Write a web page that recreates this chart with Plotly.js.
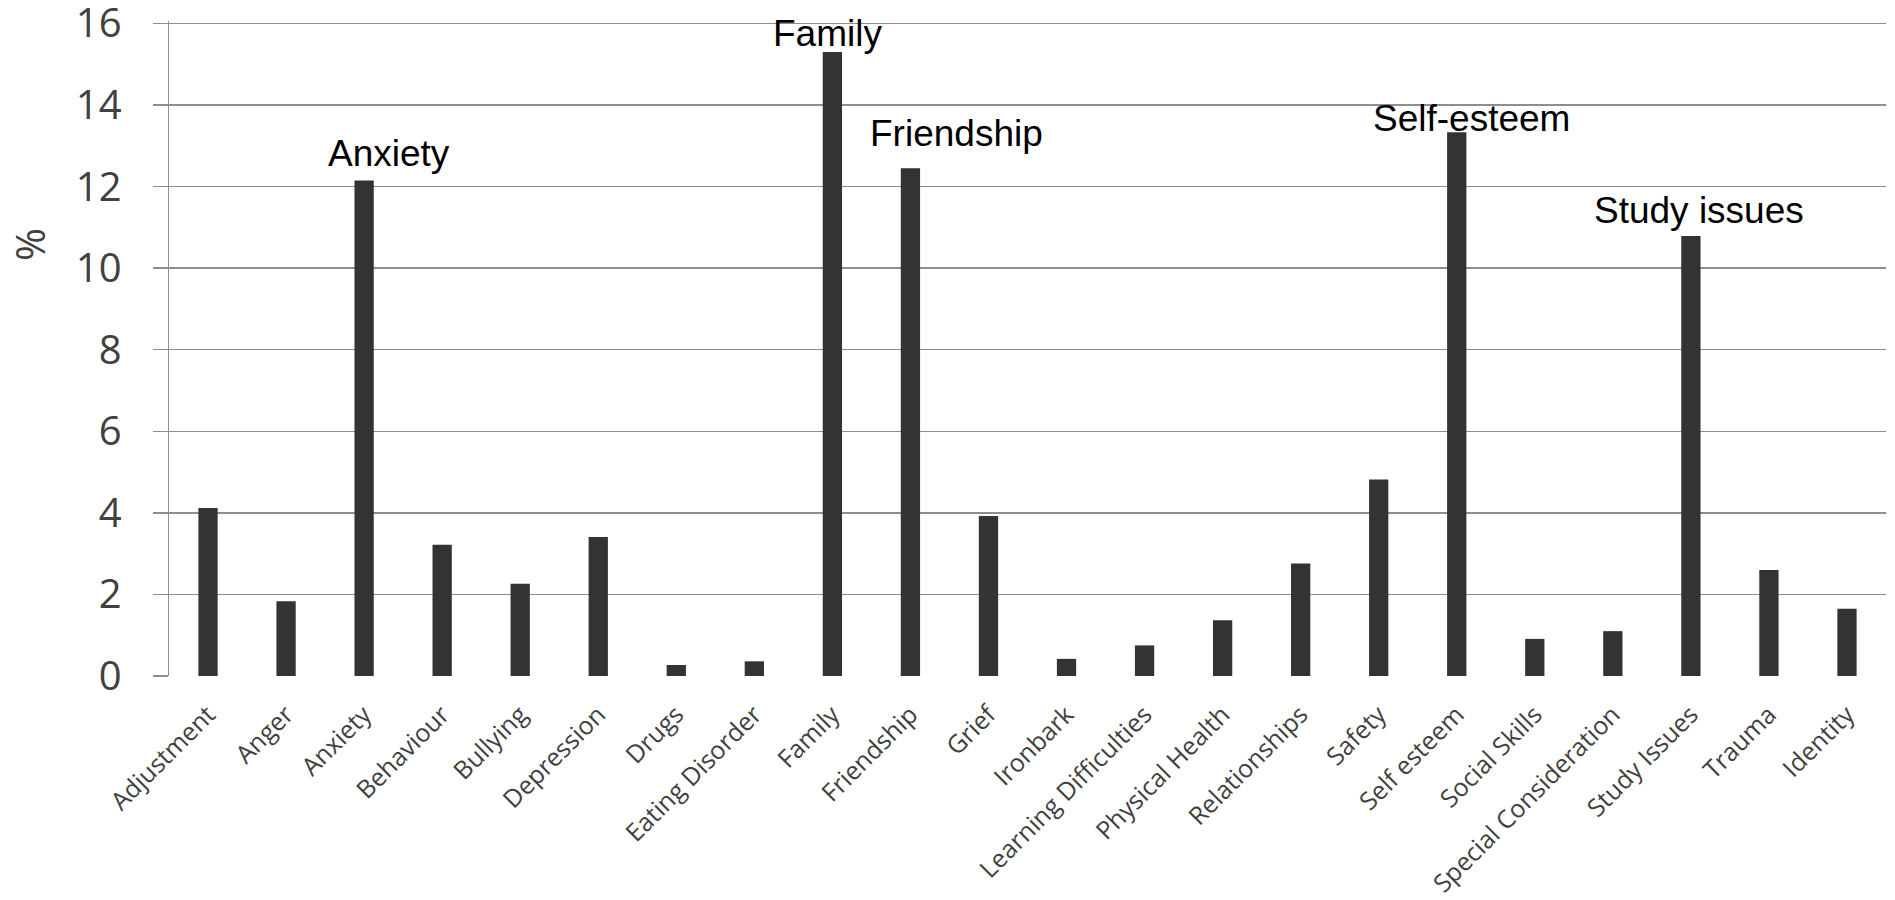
<!DOCTYPE html>
<html>
<head>
<meta charset="utf-8">
<script src="https://cdn.plot.ly/plotly-3.0.1.min.js"></script>
<style>html,body{margin:0;padding:0;background:#fff;}#chart{width:1895px;height:900px;}</style>
</head>
<body>
<div id="chart"></div>
<script>
const categories = ["Adjustment","Anger","Anxiety","Behaviour","Bullying","Depression","Drugs","Eating Disorder","Family","Friendship","Grief","Ironbark","Learning Difficulties","Physical Health","Relationships","Safety","Self esteem","Social Skills","Special Consideration","Study Issues","Trauma","Identity"];
const percentages = [4.12,1.83,12.15,3.22,2.26,3.41,0.27,0.36,15.3,12.45,3.92,0.42,0.75,1.37,2.76,4.82,13.33,0.91,1.1,10.79,2.6,1.65];
const yTicks = [0,2,4,6,8,10,12,14,16];
const labelCategories = ["Anxiety","Family","Friendship","Self esteem","Study Issues"];
const labelTexts = ["Anxiety","Family","Friendship","Self-esteem","Study issues"];

const labelShifts = [[25,27],[-5,19],[46,35],[15,14],[8,25]];

const annotations = labelCategories.map((c, i) => ({
  x: c, y: percentages[categories.indexOf(c)], xref: 'x', yref: 'y',
  text: labelTexts[i], showarrow: false,
  xanchor: 'center', yanchor: 'middle',
  xshift: labelShifts[i][0], yshift: labelShifts[i][1],
  font: {family: '"Liberation Sans", Arial, sans-serif', size: 37, color: '#000000'}
}));
annotations.push({
  xref: 'paper', yref: 'paper', x: -0.0815, y: 0.658,
  text: '%', textangle: -90, showarrow: false,
  xanchor: 'center', yanchor: 'middle',
  font: {family: '"Open Sans", sans-serif', size: 40, color: '#404040'}
});

const trace = {
  type: 'bar', x: categories, y: percentages,
  marker: {color: '#333333', line: {width: 0}},
  hoverinfo: 'none'
};

const layout = {
  width: 1895, height: 900,
  margin: {l: 169, r: 9, t: 21, b: 224, pad: 0},
  paper_bgcolor: '#ffffff', plot_bgcolor: '#ffffff',
  bargap: 0.753,
  showlegend: false,
  xaxis: {
    type: 'category', tickangle: -45, automargin: false,
    tickfont: {family: '"Open Sans", sans-serif', size: 25, color: '#404040'},
    ticklabelstandoff: 18,
    ticklabeloverflow: 'allow',
    showline: false, ticks: '', showgrid: false, zeroline: false
  },
  yaxis: {
    range: [0, 16.06], tickvals: yTicks, ticktext: yTicks.map(String),
    automargin: false,
    showgrid: true, gridcolor: '#8e8e8e', gridwidth: 1.4,
    zeroline: false,
    showline: true, linecolor: '#8e8e8e', linewidth: 1.4,
    ticks: 'outside', ticklen: 15, tickcolor: '#8e8e8e', tickwidth: 1.4,
    ticklabelstandoff: 23,
    ticklabeloverflow: 'allow',
    tickfont: {family: '"Open Sans", sans-serif', size: 40, color: '#404040'}
  },
  annotations: annotations
};

Plotly.newPlot('chart', [trace], layout, {staticPlot: true, displayModeBar: false});
</script>
</body>
</html>
